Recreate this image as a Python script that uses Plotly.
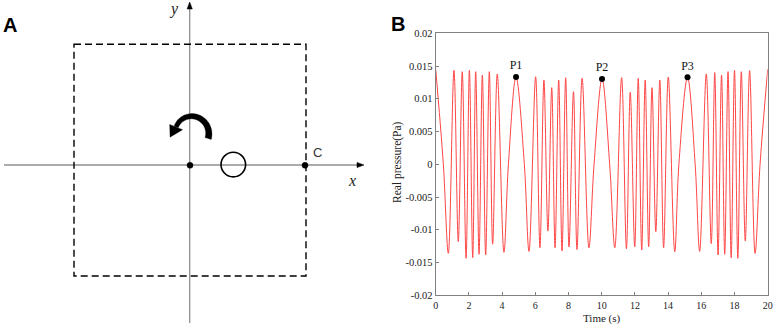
import numpy as np
import plotly.graph_objects as go

# ---------------- data ----------------
time_s = [0.00, 0.46, 0.76, 1.10, 1.36, 1.60, 1.83, 2.03, 2.23, 2.41, 2.61, 2.81, 3.01, 3.23,
          3.43, 3.71, 4.11, 4.38, 4.84, 5.34, 5.62, 6.02, 6.28, 6.52, 6.76, 6.99, 7.19, 7.41,
          7.61, 7.83, 8.03, 8.30, 8.51, 8.82, 9.23, 9.54, 10.02, 10.48, 10.79, 11.20, 11.49,
          11.72, 11.99, 12.20, 12.41, 12.62, 12.83, 13.03, 13.26, 13.50, 13.73, 14.01, 14.40,
          14.65, 15.17, 15.63, 15.90, 16.30, 16.60, 16.81, 17.01, 17.22, 17.41, 17.61, 17.80,
          18.00, 18.20, 18.41, 18.65, 18.91, 19.24, 19.54, 20.00]
pressure_pa = [0.01450, 0.0, -0.01360, 0.01435, -0.01180, 0.01414, -0.01435, 0.01435, -0.01426,
               0.01414, -0.01374, 0.01363, -0.01385, 0.01414, -0.01220, 0.01380, -0.01344, 0.0,
               0.01333, 0.0, -0.01330, 0.01337, -0.01273, 0.01287, -0.01020, 0.01170, -0.01273,
               0.01287, -0.01324, 0.01322, -0.01262, 0.01109, -0.01300, 0.01313, -0.01273, 0.0,
               0.01302, 0.0, -0.01273, 0.01322, -0.01290, 0.01100, -0.01262, 0.01313, -0.01308,
               0.01287, -0.01258, 0.01170, -0.01028, 0.01287, -0.01273, 0.01333, -0.01334, 0.0,
               0.01328, 0.0, -0.01330, 0.01380, -0.01210, 0.01400, -0.01385, 0.01363, -0.01374,
               0.01414, -0.01426, 0.01435, -0.01435, 0.01414, -0.01170, 0.01430, -0.01360, 0.0,
               0.01450]

peak_names = ["P1", "P2", "P3"]
peak_t = [4.84, 10.02, 15.17]
peak_p = [0.01333, 0.01302, 0.01328]

x_tick_vals = [0, 2, 4, 6, 8, 10, 12, 14, 16, 18, 20]
x_tick_text = ["0", "2", "4", "6", "8", "10", "12", "14", "16", "18", "20"]
y_tick_vals = [0.02, 0.015, 0.01, 0.005, 0, -0.005, -0.01, -0.015, -0.02]
y_tick_text = ["0.02", "0.015", "0.01", "0.005", "0", "-0.005", "-0.01", "-0.015", "-0.02"]

W, H = 775, 327
SERIF = "Liberation Serif"
SANS = "Liberation Sans"

fig = go.Figure()

# ---------------- panel B: pressure signal ----------------
fig.add_trace(go.Scatter(
    x=time_s, y=pressure_pa, mode="lines", xaxis="x2", yaxis="y2",
    line=dict(color="#ff4646", width=1, shape="spline", smoothing=1.0),
    hoverinfo="skip", showlegend=False))
fig.add_trace(go.Scatter(
    x=peak_t, y=peak_p, mode="markers+text", xaxis="x2", yaxis="y2",
    text=peak_names, textposition="top center",
    textfont=dict(family=SERIF, size=12, color="#111"),
    marker=dict(color="black", size=6), hoverinfo="skip", showlegend=False))

# ---------------- panel A: schematic (1 unit = 1 px) ----------------
shapes = []
axis_grey = "#8f8f8f"
shapes.append(dict(type="line", xref="x", yref="y", x0=4, y0=165, x1=360, y1=165,
                   line=dict(color=axis_grey, width=1.3)))
shapes.append(dict(type="line", xref="x", yref="y", x0=189.7, y0=323, x1=189.7, y1=6,
                   line=dict(color=axis_grey, width=1.3)))
# arrow heads of the axes
shapes.append(dict(type="path", xref="x", yref="y",
                   path="M 364,165 L 357,162.4 L 357,167.6 Z",
                   fillcolor="black", line=dict(color="black", width=0.5)))
shapes.append(dict(type="path", xref="x", yref="y",
                   path="M 189.7,2 L 187.1,9 L 192.3,9 Z",
                   fillcolor="black", line=dict(color="black", width=0.5)))
# dashed square
shapes.append(dict(type="rect", xref="x", yref="y", x0=74, y0=44.3, x1=306, y1=276,
                   line=dict(color="black", width=1.4, dash="7px,4px")))
# small circle on x axis
shapes.append(dict(type="circle", xref="x", yref="y", x0=221.0, y0=152.3, x1=245.6, y1=176.9,
                   line=dict(color="black", width=1.6)))
# dots
for cx in (190.0, 305.0):
    shapes.append(dict(type="circle", xref="x", yref="y", x0=cx - 3, y0=165.3 - 3,
                       x1=cx + 3, y1=165.3 + 3, fillcolor="black",
                       line=dict(color="black", width=0.5)))

# curved rotation arrow (tapered arc + head)
cx, cy = 191.0, 133.0
th = np.radians(np.linspace(-18, 158, 60))
frac = np.linspace(0, 1, th.size)
rm = 18.0 - 2.0 * frac
wd = 6.5 - 2.0 * frac
ox = cx + (rm + wd / 2) * np.cos(th)
oy = cy - (rm + wd / 2) * np.sin(th)
ix = cx + (rm - wd / 2) * np.cos(th)
iy = cy - (rm - wd / 2) * np.sin(th)
pts = list(zip(ox, oy)) + list(zip(ix[::-1], iy[::-1]))
body = "M " + " L ".join(f"{a:.2f},{b:.2f}" for a, b in pts) + " Z"
shapes.append(dict(type="path", xref="x", yref="y", path=body,
                   fillcolor="black", line=dict(color="black", width=0.3)))
te = th[-1]
ex, ey = cx + rm[-1] * np.cos(te), cy - rm[-1] * np.sin(te)
rx, ry = np.cos(te), -np.sin(te)
tx, ty = -np.sin(te), -np.cos(te)
half, length = 7.0, 11.0
head = (f"M {ex + rx * half:.2f},{ey + ry * half:.2f} "
        f"L {ex - rx * half:.2f},{ey - ry * half:.2f} "
        f"L {ex + tx * length - 2:.2f},{ey + ty * length:.2f} Z")
shapes.append(dict(type="path", xref="x", yref="y", path=head,
                   fillcolor="black", line=dict(color="black", width=0.3)))

C = dict(xanchor="center", yanchor="middle", showarrow=False)
annotations = [
    dict(text="<b>A</b>", x=9.5 / W, y=1 - 25.5 / H, xref="paper", yref="paper",
         font=dict(family=SANS, size=20, color="black"), **C),
    dict(text="<b>B</b>", x=397.5 / W, y=1 - 24.5 / H, xref="paper", yref="paper",
         font=dict(family=SANS, size=20, color="black"), **C),
    dict(text="<i>y</i>", x=173.5, y=8.5, xref="x", yref="y",
         font=dict(family=SERIF, size=16, color="#222"), **C),
    dict(text="<i>x</i>", x=351.5, y=180, xref="x", yref="y",
         font=dict(family=SERIF, size=16, color="#222"), **C),
    dict(text="C", x=317, y=152.5, xref="x", yref="y",
         font=dict(family=SANS, size=13, color="#333"), **C),
    dict(text="Time (s)", x=601.7 / W, y=1 - 318.5 / H, xref="paper", yref="paper",
         font=dict(family=SERIF, size=11, color="#222"), **C),
    dict(text="Real pressure(Pa)", x=397 / W, y=1 - 162 / H, xref="paper", yref="paper",
         textangle=-90, font=dict(family=SERIF, size=11.5, color="#222"), **C),
]

frame = "#808080"
fig.update_layout(
    template="none",
    width=W, height=H, margin=dict(l=0, r=0, t=0, b=0, pad=0, autoexpand=False),
    paper_bgcolor="white", plot_bgcolor="white", showlegend=False,
    shapes=shapes, annotations=annotations, hovermode=False,
    xaxis=dict(domain=[0, 372 / W], range=[0, 372], visible=False, fixedrange=True,
               automargin=False),
    yaxis=dict(domain=[0, 1], range=[327, 0], visible=False, fixedrange=True,
               automargin=False),
    xaxis2=dict(domain=[435.7 / W, 767.7 / W], range=[0, 20], anchor="y2", automargin=False,
                tickvals=x_tick_vals, ticktext=x_tick_text, ticks="inside", ticklen=3,
                ticklabelstandoff=1,
                tickcolor=frame, showline=True, linecolor=frame, linewidth=1, mirror=True,
                showgrid=False, zeroline=False,
                tickfont=dict(family=SERIF, size=10, color="#222")),
    yaxis2=dict(domain=[1 - 295.3 / H, 1 - 33.3 / H], range=[-0.02, 0.02], anchor="x2",
                automargin=False,
                tickvals=y_tick_vals, ticktext=y_tick_text, ticks="inside", ticklen=3,
                tickcolor=frame, showline=True, linecolor=frame, linewidth=1, mirror=True,
                showgrid=False, zeroline=False,
                tickfont=dict(family=SERIF, size=10.5, color="#222")),
)

fig.write_html("out.html", config={"displayModeBar": False},
               post_script="document.body.style.margin='0';document.body.style.padding='0';"
                           "document.body.style.overflow='hidden';")
